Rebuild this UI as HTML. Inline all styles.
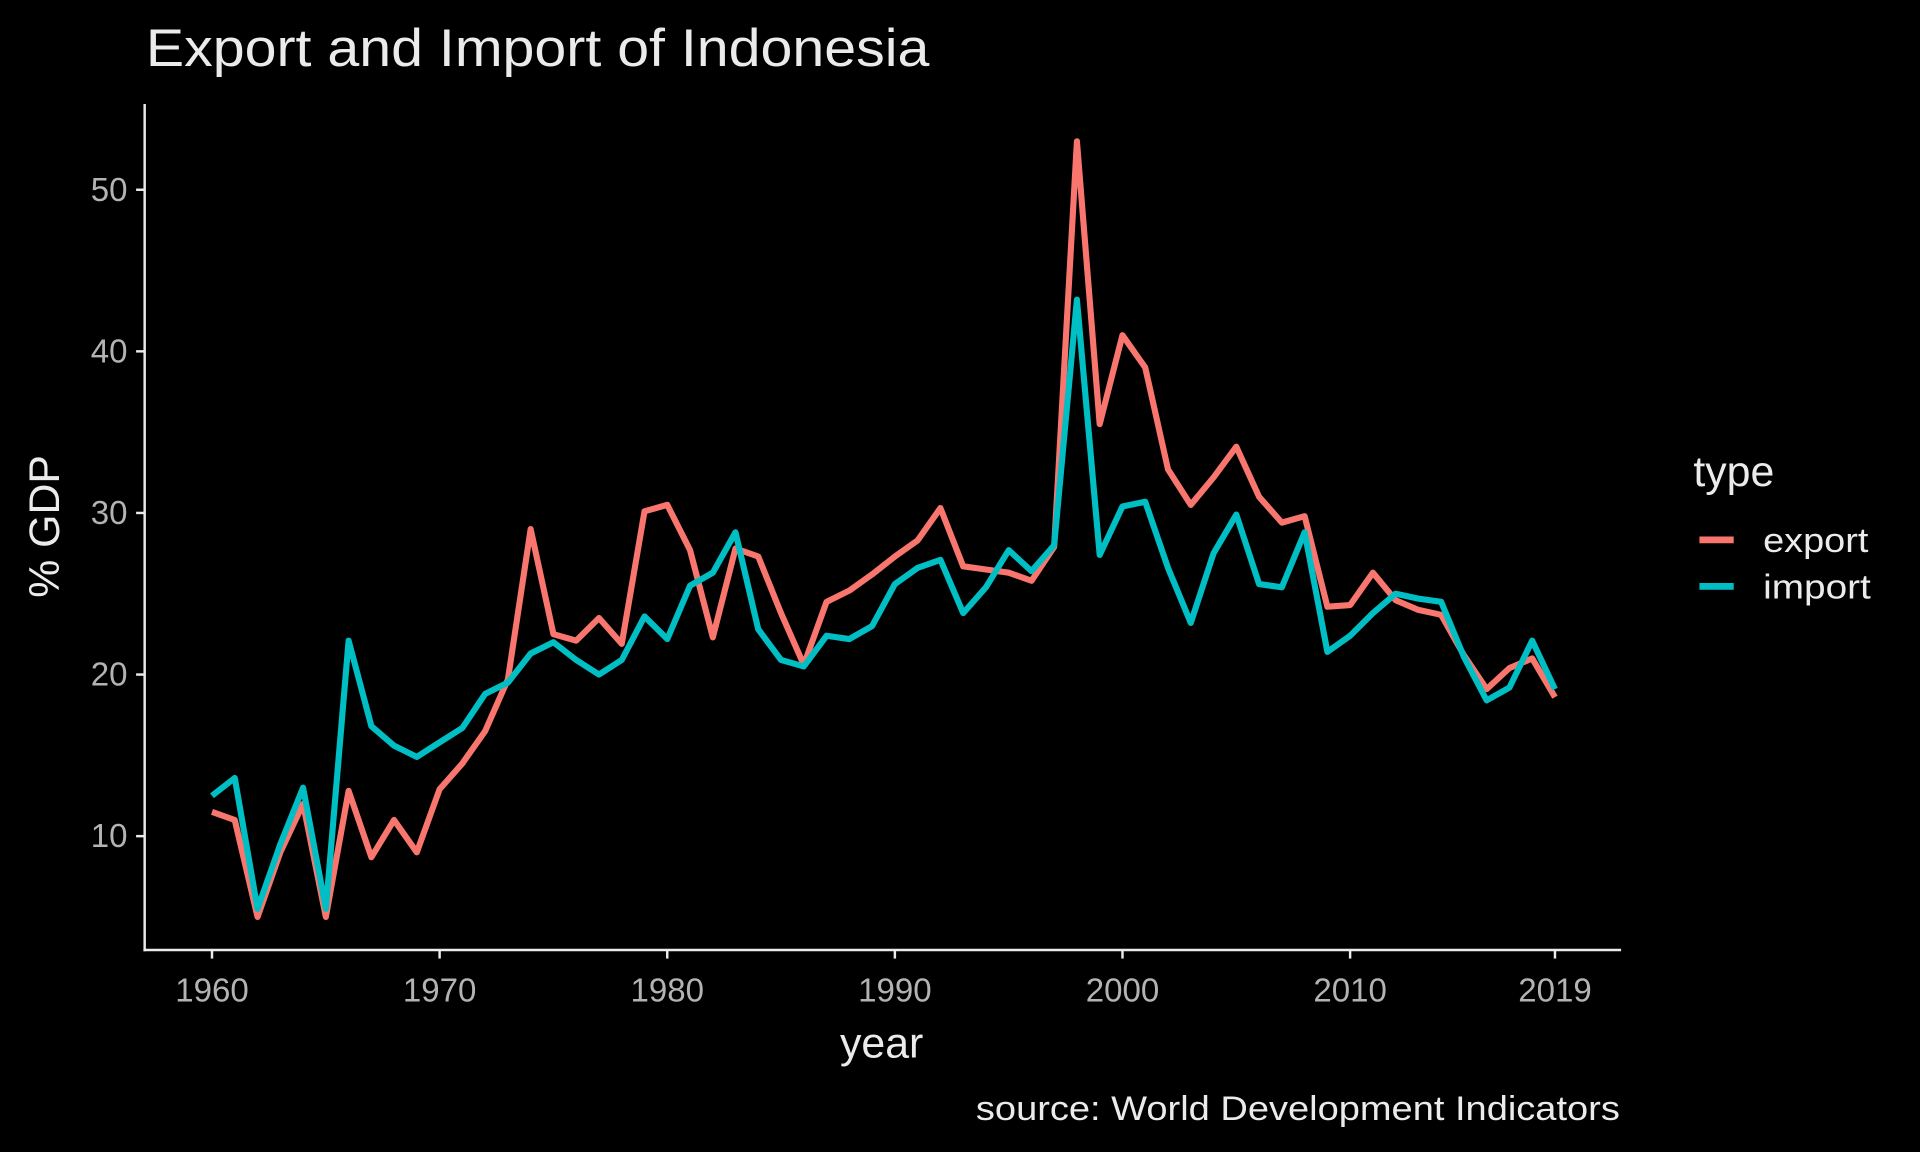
<!DOCTYPE html>
<html><head><meta charset="utf-8"><style>
html,body{margin:0;padding:0;background:#000;}
svg{display:block;}
text{font-family:"Liberation Sans",sans-serif;}
</style></head><body>
<svg id="s" width="1920" height="1152" viewBox="0 0 1568 941" xmlns="http://www.w3.org/2000/svg">
<rect width="1568" height="941" fill="#000"/>
<text x="119" y="54" font-size="43" fill="#ebebeb" textLength="640" lengthAdjust="spacingAndGlyphs">Export and Import of Indonesia</text>
<line x1="118" y1="85" x2="118" y2="777" stroke="#ebebeb" stroke-width="2"/>
<line x1="117" y1="776" x2="1324" y2="776" stroke="#ebebeb" stroke-width="2"/>
<g id="yt" font-size="27" fill="#b3b3b3" text-anchor="end"></g>
<g id="xt" font-size="27" fill="#b3b3b3" text-anchor="middle"></g>
<text x="720" y="864" font-size="35" fill="#ebebeb" text-anchor="middle">year</text>
<text transform="translate(48,430) rotate(-90)" font-size="35" fill="#ebebeb" text-anchor="middle">% GDP</text>
<text x="1323" y="915" font-size="28" fill="#ebebeb" text-anchor="end" textLength="526" lengthAdjust="spacingAndGlyphs">source: World Development Indicators</text>
<text x="1383" y="397" font-size="35" fill="#ebebeb">type</text>
<line x1="1388" y1="441" x2="1416" y2="441" stroke="#F8766D" stroke-width="5.5"/>
<line x1="1388" y1="479" x2="1416" y2="479" stroke="#00BFC4" stroke-width="5.5"/>
<text x="1440" y="451" font-size="28" fill="#ebebeb" textLength="86" lengthAdjust="spacingAndGlyphs">export</text>
<text x="1440" y="489" font-size="28" fill="#ebebeb" textLength="88" lengthAdjust="spacingAndGlyphs">import</text>
<path id="ex" fill="none" stroke="#F8766D" stroke-width="5" stroke-linejoin="round"/>
<path id="im" fill="none" stroke="#00BFC4" stroke-width="5" stroke-linejoin="round"/>
</svg>
<script>
var ex=[11.5,11,5,9,12,5,12.8,8.7,11,9,12.9,14.5,16.5,19.7,29,22.5,22.1,23.5,21.9,30.1,30.5,27.7,22.3,27.8,27.3,23.8,20.6,24.5,25.2,26.2,27.3,28.3,30.3,26.7,26.5,26.3,25.8,27.9,53,35.5,41,39,32.7,30.5,32.2,34.1,31,29.4,29.8,24.2,24.3,26.3,24.6,24,23.7,21.2,19.1,20.4,21,18.6];
var im=[12.5,13.6,5.5,9.5,13,5.5,22.1,16.8,15.6,14.9,15.8,16.7,18.8,19.5,21.3,22,20.9,20,20.9,23.6,22.2,25.5,26.3,28.8,22.8,20.9,20.5,22.4,22.2,23,25.6,26.6,27.1,23.8,25.4,27.7,26.4,28,43.2,27.4,30.4,30.7,26.6,23.2,27.5,29.9,25.6,25.4,28.8,21.4,22.4,23.8,25,24.7,24.5,21.1,18.4,19.2,22.1,19.1];
function X(y){return 173+(y-1960)*1097/59}
function Y(v){return 683-(v-10)*13.2}
function d(a){return a.map((v,i)=>(i?'L':'M')+X(1960+i).toFixed(1)+','+Y(v).toFixed(1)).join('')}
document.getElementById('ex').setAttribute('d',d(ex));
document.getElementById('im').setAttribute('d',d(im));
var ns='http://www.w3.org/2000/svg',s=document.getElementById('s');
[10,20,30,40,50].forEach(v=>{var l=document.createElementNS(ns,'line');l.setAttribute('x1',111);l.setAttribute('x2',118);l.setAttribute('y1',Y(v));l.setAttribute('y2',Y(v));l.setAttribute('stroke','#ebebeb');l.setAttribute('stroke-width',2);s.appendChild(l);
var t=document.createElementNS(ns,'text');t.setAttribute('x',104);t.setAttribute('y',Y(v)+9);t.textContent=v;document.getElementById('yt').appendChild(t);});
[1960,1970,1980,1990,2000,2010,2019].forEach(v=>{var l=document.createElementNS(ns,'line');l.setAttribute('x1',X(v));l.setAttribute('x2',X(v));l.setAttribute('y1',776);l.setAttribute('y2',783);l.setAttribute('stroke','#ebebeb');l.setAttribute('stroke-width',2);s.appendChild(l);
var t=document.createElementNS(ns,'text');t.setAttribute('x',X(v));t.setAttribute('y',818);t.textContent=v;document.getElementById('xt').appendChild(t);});
</script>
</body></html>
